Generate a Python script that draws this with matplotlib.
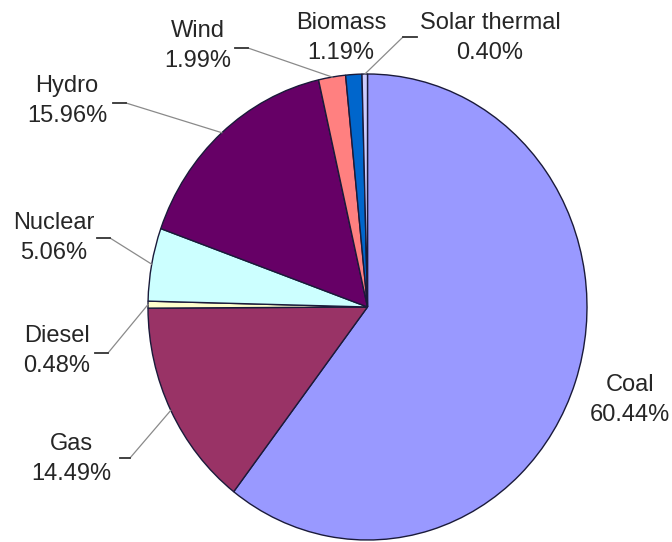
import numpy as np
import matplotlib
matplotlib.use("Agg")
import matplotlib.pyplot as plt

# generation share by source, %
sources = ["Coal", "Gas", "Diesel", "Nuclear", "Hydro", "Wind", "Biomass", "Solar thermal"]
shares = [60.44, 14.49, 0.48, 5.06, 15.96, 1.99, 1.19, 0.40]
colors = ["#9999FF", "#993366", "#FFFFCC", "#CCFFFF", "#660066", "#FF8080", "#0066CC", "#CCCCFF"]

W, H = 672, 542
fig = plt.figure(figsize=(W / 100, H / 100), dpi=100)

# pie box in pixels (slightly taller than wide)
x0, x1, y0, y1 = 148, 587, 74, 540
ax = fig.add_axes([x0 / W, (H - y1) / H, (x1 - x0) / W, (y1 - y0) / H])

wedges, _ = ax.pie(shares, colors=colors, startangle=90, counterclock=False,
                   radius=1, frame=False,
                   wedgeprops=dict(edgecolor="#1a1a3a", linewidth=1.0))
ax.set_xlim(-1, 1)
ax.set_ylim(-1, 1)
ax.set_aspect("auto")
ax.axis("off")

cx, cy = (x0 + x1) / 2, (y0 + y1) / 2
rx, ry = (x1 - x0) / 2, (y1 - y0) / 2


def to_data(px, py):
    return (px - cx) / rx, (cy - py) / ry


# label centres and leader ticks, pixel positions
label_pos = {
    "Coal": (630, 400),
    "Gas": (71, 459),
    "Diesel": (57, 351),
    "Nuclear": (54, 238),
    "Hydro": (67, 101),
    "Wind": (198, 46),
    "Biomass": (341, 38),
    "Solar thermal": (490, 38),
}
ticks = {
    "Gas": (120, 130, 458, 130),
    "Diesel": (95, 108, 353, 108),
    "Nuclear": (97, 110, 238, 110),
    "Hydro": (113, 126, 103, 126),
    "Wind": (235, 248, 48, 248),
    "Solar thermal": (403, 417, 37, 403),
}

cum = 0.0
for name, val, w in zip(sources, shares, wedges):
    mid = 90 - (cum + val / 2) / 100 * 360
    cum += val
    lx, ly = to_data(*label_pos[name])
    ax.text(lx, ly, f"{name}\n{val:.2f}%", ha="center", va="center",
            multialignment="center", fontsize=17, color="#262626",
            family=["Liberation Sans", "DejaVu Sans"], linespacing=1.5,
            clip_on=False)
    if name in ticks:
        ta, tb, ty, tj = ticks[name]
        xa, yt = to_data(ta, ty)
        xb, _ = to_data(tb, ty)
        xj, _ = to_data(tj, ty)
        ex, ey = np.cos(np.radians(mid)), np.sin(np.radians(mid))
        ax.plot([xj, ex], [yt, ey], color="#8a8a8a", lw=0.9, clip_on=False)
        ax.plot([xa, xb], [yt, yt], color="#333333", lw=1.3, clip_on=False)

fig.savefig("out.png", dpi=100, facecolor="white")
